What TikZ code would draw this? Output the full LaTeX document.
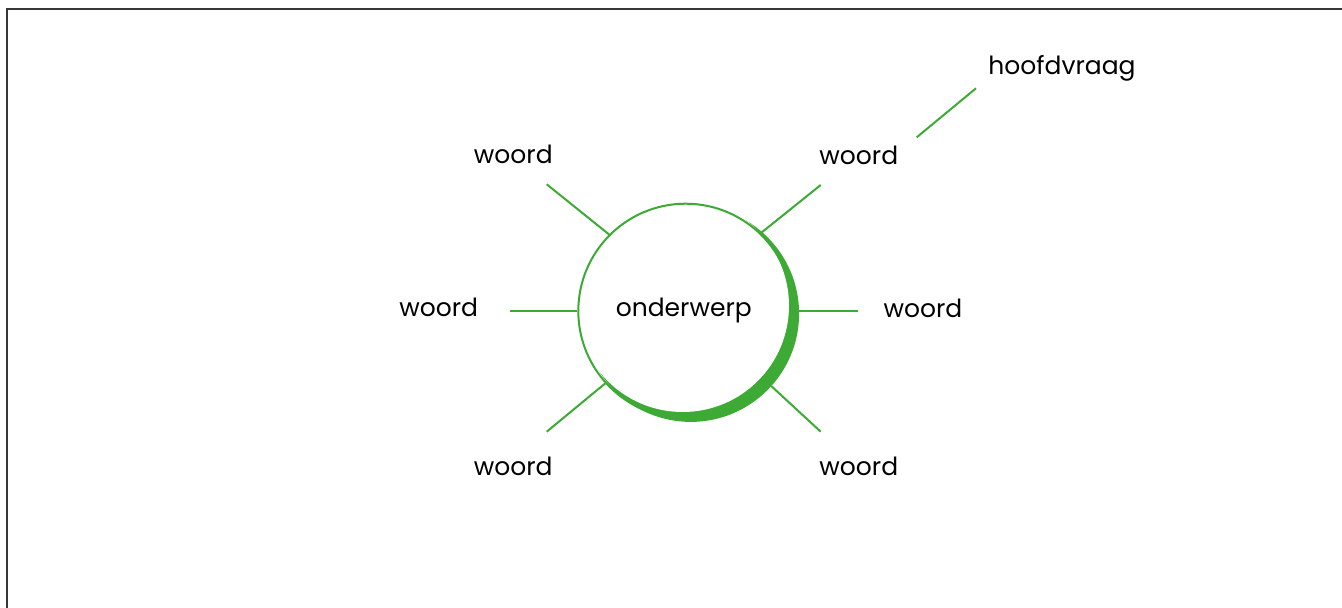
\documentclass[tikz,border=0pt]{standalone}
\usepackage{fontspec}
\setmainfont{Poppins}
\definecolor{leaf}{RGB}{60,170,52}
\definecolor{framegray}{RGB}{55,55,55}
\tikzset{
  lbl/.style={anchor=base, inner sep=0pt, font=\fontsize{25}{30}\selectfont, text=black},
  spoke/.style={draw=leaf, line width=2pt},
}
\begin{document}
\begin{tikzpicture}[x=1pt, y=-1pt]
\useasboundingbox (0,0) rectangle (1342,608);
\draw[framegray, line width=1.5pt] (7,612) -- (7,9) -- (1346,9);
% crescent and circle
\node[circle, fill=leaf, inner sep=0pt, minimum size=216.6pt] (shadow) at (690.8,313.6) {};
\node[circle, fill=white, inner sep=0pt, minimum size=212.6pt] (inner) at (682.7,305.7) {};
\node[circle, draw=leaf, line width=2pt, inner sep=0pt, minimum size=214.6pt] (c) at (685.6,311) {};
\node[lbl] (topic) at (683.8,316.7) {onderwerp};
% labels
\node[lbl] (wul) at (513.3,163.3) {woord};
\node[lbl] (wl) at (438.7,316.7) {woord};
\node[lbl] (wur) at (858.8,164) {woord};
\node[lbl] (wr) at (923,317) {woord};
\node[lbl] (wll) at (513.2,475) {woord};
\node[lbl] (wlr) at (858.8,475) {woord};
\node[lbl] (hv) at (1062,74.3) {hoofdvraag};
% free ends
\coordinate (eul) at (546.7,184.3);
\coordinate (eur) at (820.7,185);
\coordinate (el) at (510,311);
\coordinate (er) at (858,311);
\coordinate (ell) at (546.7,431.7);
\coordinate (elr) at (820.7,431.7);
\coordinate (hva) at (916.7,137.3);
\coordinate (hvb) at (976,88.3);
% spokes
\draw[spoke] (c.135) -- (eul);
\draw[spoke] (c.46) -- (eur);
\draw[spoke] (c.180) -- (el);
\draw[spoke] (er -| shadow.east) -- (er);
\draw[spoke] (c.222) -- (ell);
\draw[spoke] (shadow.318) -- (elr);
\draw[spoke] (hva) -- (hvb);
\end{tikzpicture}
\end{document}
